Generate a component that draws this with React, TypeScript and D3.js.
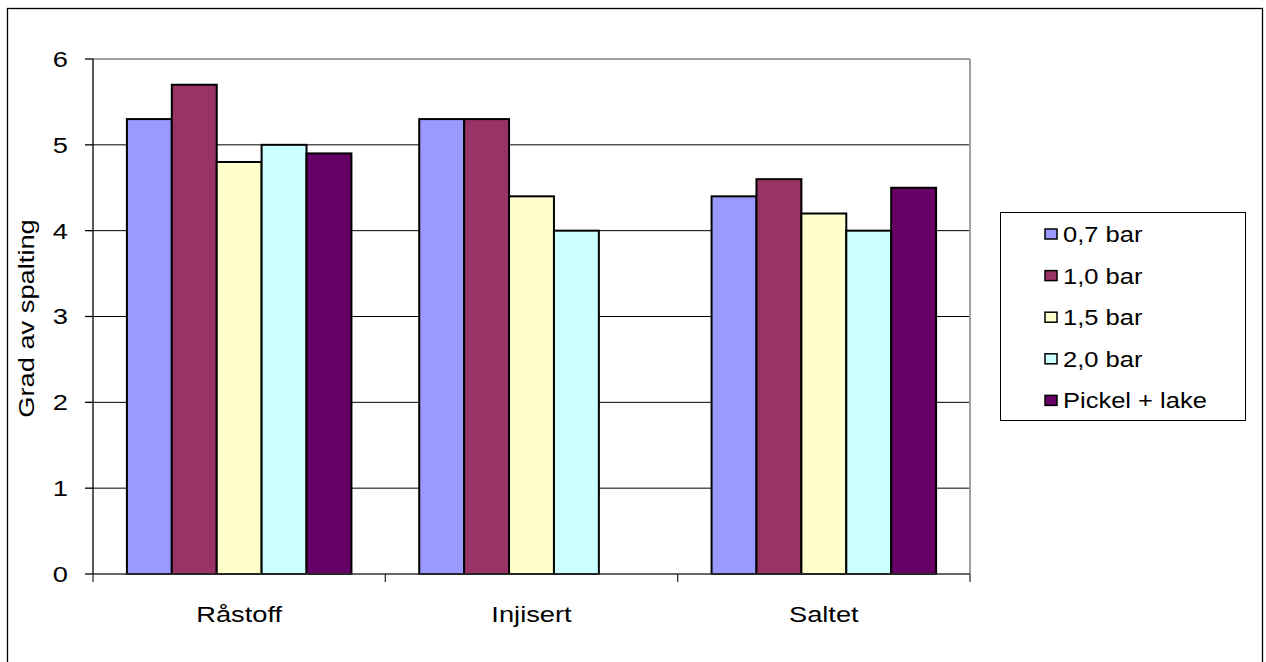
import React from "react";
import * as d3 from "d3";

const categories = ["Råstoff", "Injisert", "Saltet"];
const seriesNames = ["0,7 bar", "1,0 bar", "1,5 bar", "2,0 bar", "Pickel + lake"];
const seriesColors = ["#9999FF", "#993366", "#FFFFCC", "#CCFFFF", "#660066"];
const s07 = [5.3, 5.3, 4.4];
const s10 = [5.7, 5.3, 4.6];
const s15 = [4.8, 4.4, 4.2];
const s20 = [5.0, 4.0, 4.0];
const sPickel = [4.9, null, 4.5];
const seriesValues = [s07, s10, s15, s20, sPickel];
const yTicks = [0, 1, 2, 3, 4, 5, 6];
const yTitle = "Grad av spalting";

const W = 1266;
const H = 662;
const FONT = "'Liberation Sans', Arial, sans-serif";
const FS = 22;
const SX = 1.24;
const SXL = 1.16;

export default function App() {
  const left = 93, right = 970, top = 59, bottom = 574;
  const y = d3.scaleLinear().domain([0, 6]).range([bottom, top]);
  const x0 = d3.scaleBand().domain(categories).range([left, right]).paddingInner(0).paddingOuter(0);
  const groupPad = 33.9;
  const x1 = d3
    .scaleBand()
    .domain(seriesNames)
    .range([groupPad, x0.bandwidth() - groupPad])
    .padding(0);

  return (
    <svg width={W} height={H} style={{ position: "absolute", left: 0, top: 0, display: "block" }}>
      <rect x={0} y={0} width={W} height={H} fill="#fff" />
      <rect x={7.5} y={8.5} width={1255} height={680} fill="#fff" stroke="#000" strokeWidth={1.3} />
      {/* gridlines */}
      {yTicks.slice(1, -1).map((t) => (
        <line key={t} x1={left} x2={right} y1={y(t)} y2={y(t)} stroke="#000" strokeWidth={1} />
      ))}
      {/* plot border top/right */}
      <line x1={left} x2={right} y1={y(6)} y2={y(6)} stroke="#a0a0a0" strokeWidth={2} />
      <line x1={right} x2={right} y1={top} y2={bottom} stroke="#a0a0a0" strokeWidth={2} />
      {/* bars */}
      {categories.map((c, ci) => (
        <g key={c} transform={`translate(${x0(c)},0)`}>
          {seriesNames.map((s, si) => {
            const v = seriesValues[si][ci];
            if (v == null) return null;
            return (
              <rect
                key={s}
                x={x1(s)}
                y={y(v)}
                width={x1.bandwidth()}
                height={y(0) - y(v)}
                fill={seriesColors[si]}
                stroke="#000"
                strokeWidth={2}
              />
            );
          })}
        </g>
      ))}
      {/* axes */}
      <line x1={left} x2={left} y1={top} y2={bottom} stroke="#000" strokeWidth={1.3} />
      <line x1={left} x2={right} y1={bottom} y2={bottom} stroke="#333" strokeWidth={1.3} />
      {yTicks.map((t) => (
        <g key={t}>
          <line x1={left - 8} x2={left} y1={y(t)} y2={y(t)} stroke="#000" strokeWidth={1.3} />
          <text
            transform={`translate(68,${y(t)}) scale(${SX},1)`}
            dy="0.36em"
            textAnchor="end"
            fontFamily={FONT}
            fontSize={FS}
            fill="#000"
          >
            {t}
          </text>
        </g>
      ))}
      {[...categories.map((c) => x0(c) as number), right].map((xv, i) => (
        <line key={i} x1={xv} x2={xv} y1={bottom} y2={bottom + 8} stroke="#333" strokeWidth={1.3} />
      ))}
      {categories.map((c) => (
        <text
          key={c}
          transform={`translate(${(x0(c) as number) + x0.bandwidth() / 2},622) scale(${SX},1)`}
          textAnchor="middle"
          fontFamily={FONT}
          fontSize={FS}
          fill="#000"
        >
          {c}
        </text>
      ))}
      <text
        transform={`translate(34,${(top + bottom) / 2 + 2}) rotate(-90) scale(${SX},1)`}
        textAnchor="middle"
        fontFamily={FONT}
        fontSize={FS}
        fill="#000"
      >
        {yTitle}
      </text>
      {/* legend */}
      <rect x={1000.5} y={212.5} width={245} height={208} fill="#fff" stroke="#000" strokeWidth={1} />
      {seriesNames.map((s, i) => {
        const cy = 234 + i * 41.6;
        return (
          <g key={s}>
            <rect x={1045} y={cy - 5} width={12} height={10} fill={seriesColors[i]} stroke="#000" strokeWidth={1.5} />
            <text
              transform={`translate(1063,${cy}) scale(${SXL},1)`}
              dy="0.36em"
              fontFamily={FONT}
              fontSize={FS}
              fill="#000"
            >
              {s}
            </text>
          </g>
        );
      })}
    </svg>
  );
}
